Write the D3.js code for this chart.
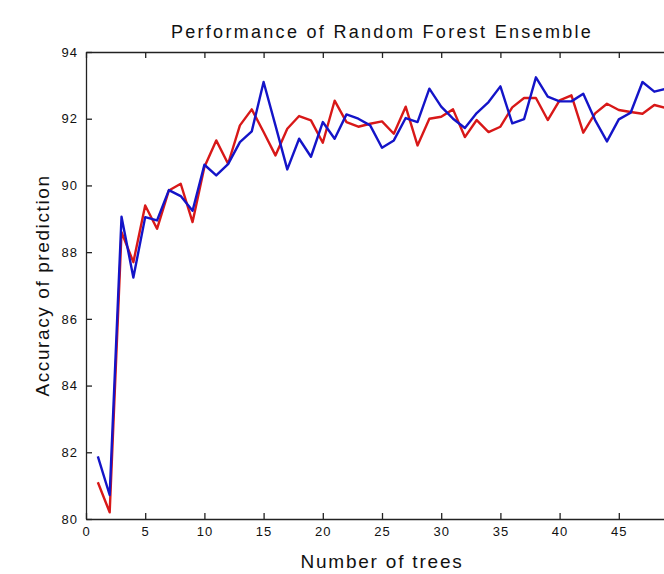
<!DOCTYPE html>
<html>
<head>
<meta charset="utf-8">
<script src="https://cdn.jsdelivr.net/npm/d3@7"></script>
<style>
  body { margin: 0; background: #fff; }
  svg { display: block; }
  text { font-family: "Liberation Sans", Arial, sans-serif; fill: #111; }
</style>
</head>
<body>
<svg width="664" height="574"></svg>
<script>
// number of trees in the ensemble
const trees = d3.range(1, 51);

// red run
const accRed = [
    81.1, 80.2, 88.6, 87.7, 89.4, 88.7, 89.85, 90.05, 88.9, 90.55,
    91.35, 90.65, 91.8, 92.28, 91.6, 90.9, 91.7, 92.08, 91.95, 91.28,
    92.54, 91.9, 91.76, 91.85, 91.92, 91.55, 92.36, 91.2, 92.0, 92.06,
    92.28, 91.45, 91.96, 91.6, 91.76, 92.34, 92.62, 92.62, 91.96, 92.55,
    92.7, 91.58, 92.16, 92.45, 92.26, 92.2, 92.15, 92.41, 92.32, 92.3
];

// blue run
const accBlue = [
    81.88, 80.72, 89.06, 87.24, 89.05, 88.95, 89.86, 89.68, 89.24, 90.62,
    90.3, 90.64, 91.3, 91.62, 93.1, 91.8, 90.48, 91.4, 90.86, 91.9,
    91.4, 92.13, 92.0, 91.8, 91.13, 91.35, 92.02, 91.9, 92.9, 92.36,
    92.0, 91.72, 92.17, 92.5, 92.97, 91.86, 91.99, 93.24, 92.66, 92.52,
    92.52, 92.75, 91.96, 91.32, 91.98, 92.18, 93.1, 92.81, 92.9, 92.95
];

const xTicks = d3.range(0, 50, 5);
const yTicks = [80, 82, 84, 86, 88, 90, 92, 94];

const svg = d3.select("svg");
const margin = {left: 86, top: 52, right: 678, bottom: 519};

const x = d3.scaleLinear().domain([0, 50]).range([margin.left, margin.right]);
const y = d3.scaleLinear().domain([80, 94]).range([margin.bottom, margin.top]);

const tickLen = 6;

// bottom axis, ticks pointing inside
const xAxis = svg.append("g")
    .attr("transform", `translate(0,${margin.bottom})`)
    .call(d3.axisBottom(x).tickValues(xTicks).tickSizeInner(-tickLen).tickSizeOuter(0).tickPadding(8));
// top axis, no labels
const xAxisTop = svg.append("g")
    .attr("transform", `translate(0,${margin.top})`)
    .call(d3.axisTop(x).tickValues(xTicks).tickSizeInner(-tickLen).tickSizeOuter(0).tickFormat(""));
// left axis
const yAxis = svg.append("g")
    .attr("transform", `translate(${margin.left},0)`)
    .call(d3.axisLeft(y).tickValues(yTicks).tickSizeInner(-tickLen).tickSizeOuter(0).tickPadding(8));
// right axis
const yAxisRight = svg.append("g")
    .attr("transform", `translate(${margin.right},0)`)
    .call(d3.axisRight(y).tickValues(yTicks).tickSizeInner(-tickLen).tickSizeOuter(0).tickFormat(""));

[xAxis, xAxisTop, yAxis, yAxisRight].forEach(g => {
    g.select(".domain").attr("stroke", "#222").attr("stroke-width", 1.3);
    g.selectAll(".tick line").attr("stroke", "#222").attr("stroke-width", 1.3);
    g.selectAll(".tick text")
        .style("font-size", "13px")
        .style("letter-spacing", "1px")
        .attr("fill", "#111");
});

const line = d3.line()
    .x((d, i) => x(trees[i]))
    .y(d => y(d));

svg.append("path")
    .datum(accRed)
    .attr("fill", "none")
    .attr("stroke", "#d81818")
    .attr("stroke-width", 2.4)
    .attr("stroke-linejoin", "round")
    .attr("d", line);

svg.append("path")
    .datum(accBlue)
    .attr("fill", "none")
    .attr("stroke", "#1414c8")
    .attr("stroke-width", 2.4)
    .attr("stroke-linejoin", "round")
    .attr("d", line);

// title and labels
svg.append("text")
    .attr("x", (margin.left + margin.right) / 2)
    .attr("y", 38)
    .attr("text-anchor", "middle")
    .style("font-size", "18px")
    .style("letter-spacing", "2.3px")
    .text("Performance of Random Forest Ensemble");

svg.append("text")
    .attr("x", (margin.left + margin.right) / 2)
    .attr("y", 568)
    .attr("text-anchor", "middle")
    .style("font-size", "19px")
    .style("letter-spacing", "1.8px")
    .text("Number of trees");

svg.append("text")
    .attr("transform", `translate(49,${(margin.top + margin.bottom) / 2}) rotate(-90)`)
    .attr("text-anchor", "middle")
    .style("font-size", "19px")
    .style("letter-spacing", "1.6px")
    .text("Accuracy of prediction");
</script>
</body>
</html>
